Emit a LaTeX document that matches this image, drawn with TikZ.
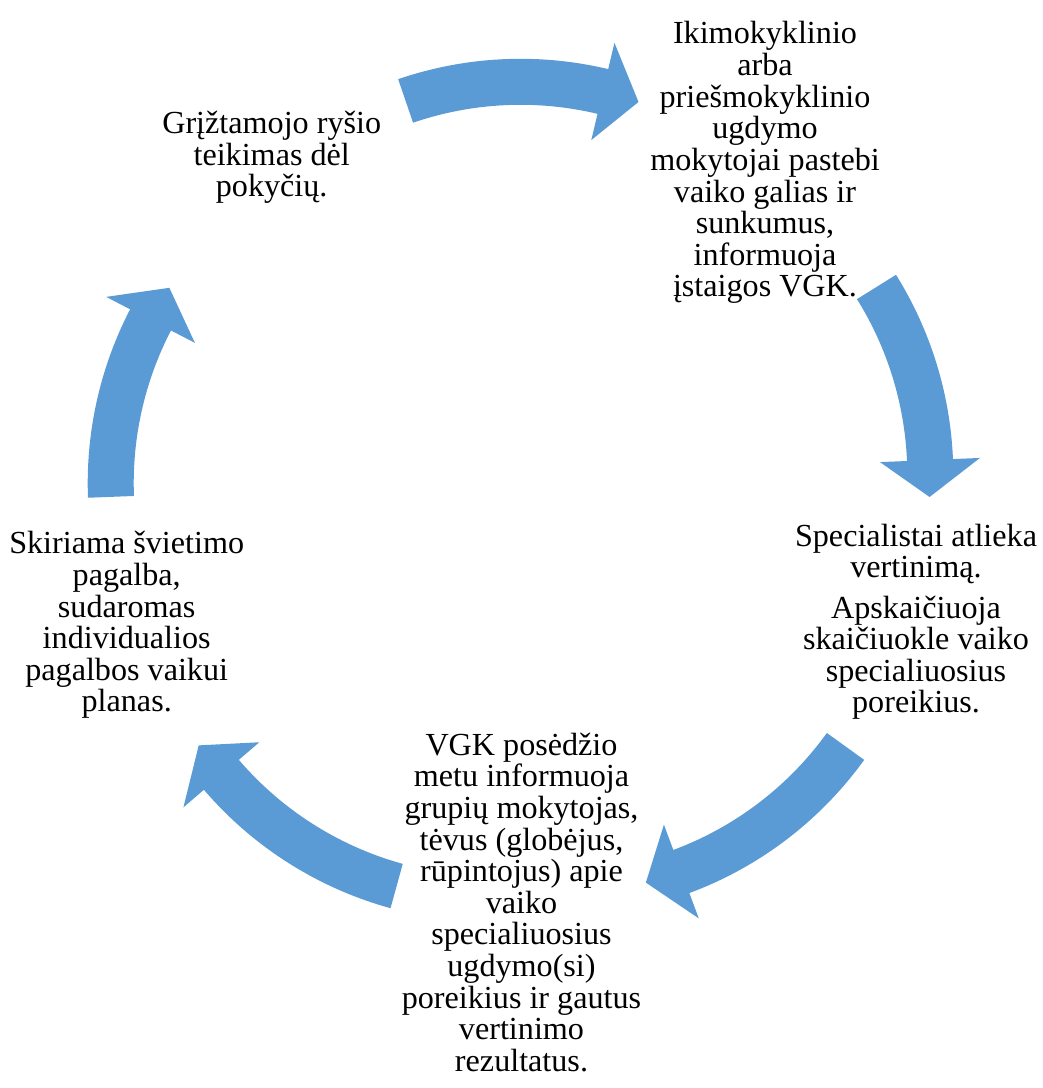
\documentclass[tikz,border=0pt]{standalone}
\usepackage{fontspec}
\setmainfont{Liberation Serif}
\usetikzlibrary{positioning}
\definecolor{cycleblue}{RGB}{91,155,213}

\begin{document}
\begin{tikzpicture}[
    x=0.02cm, y=0.02cm,
    font=\fontsize{18.3}{18}\selectfont,
    % styles for the cycle
    stage/.style={align=center, inner sep=0pt, anchor=base},
    cyclearrow/.style={fill=cycleblue, draw=none}
]
    \useasboundingbox (0,0) rectangle (1042,1088);

    % --- 1. Stages (placed at the baseline of their last line) ---
    \node[stage] (ikimok) at (765,791) {Ikimokyklinio\\arba\\priešmokyklinio\\ugdymo\\mokytojai pastebi\\vaiko galias ir\\sunkumus,\\informuoja\\įstaigos VGK.};

    \node[stage] (vertinimas) at (916,375) {Specialistai atlieka\\vertinimą.\\[5pt]Apskaičiuoja\\skaičiuokle vaiko\\specialiuosius\\poreikius.};

    \node[stage] (posedis) at (521.5,16.5) {VGK posėdžio\\metu informuoja\\grupių mokytojas,\\tėvus (globėjus,\\rūpintojus) apie\\vaiko\\specialiuosius\\ugdymo(si)\\poreikius ir gautus\\vertinimo\\rezultatus.};

    \node[stage] (pagalba) at (126.7,376) {Skiriama švietimo\\pagalba,\\sudaromas\\individualios\\pagalbos vaikui\\planas.};

    \node[stage] (grizt) at (271.7,891) {Grįžtamojo ryšio\\teikimas dėl\\pokyčių.};

    % --- 2. Block arrows between the stages ---
    % centre x / centre y / tail angle / head base angle / tip angle
    \foreach \cx/\cy/\ta/\hb/\tp in {520.6/651.2/108.9/76.6/70.6,
                                     575.3/613.1/31.96/2.4/-3.57,
                                     557.6/549.2/-35.8/-69.6/-75.6,
                                     490.9/544.2/-105.4/-139.4/-145.4,
                                     465.7/604.75/182.2/152.6/146.6}
        \fill[cyclearrow, shift={(\cx,\cy)}]
            (\ta:378) arc[start angle=\ta, end angle=\hb, radius=378]
            -- (\hb:405) -- (\tp:355) -- (\hb:305)
            -- (\hb:332) arc[start angle=\hb, end angle=\ta, radius=332] -- cycle;

\end{tikzpicture}
\end{document}
